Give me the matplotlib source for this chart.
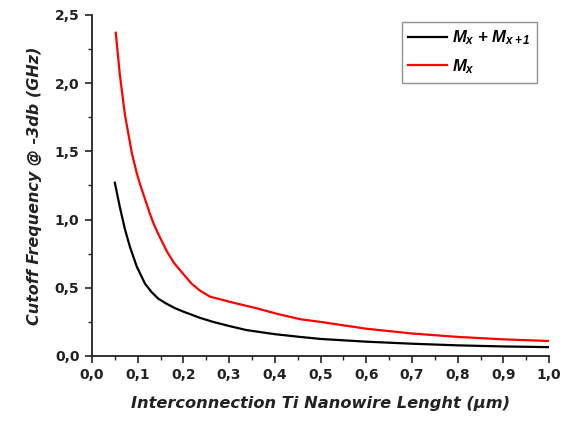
import matplotlib
matplotlib.use("Agg")
import matplotlib.pyplot as plt
from matplotlib.ticker import MultipleLocator, FixedLocator

plt.rcParams['font.family'] = ['DejaVu Sans']
plt.rcParams['mathtext.fontset'] = 'custom'
plt.rcParams['mathtext.it'] = 'Liberation Sans:bold:italic'
plt.rcParams['mathtext.rm'] = 'Liberation Sans:bold:italic'
plt.rcParams['mathtext.bf'] = 'Liberation Sans:bold:italic'

# Nanowire length (µm) and cutoff frequency (GHz)
len_pair = [0.05, 0.061, 0.072, 0.083, 0.098, 0.116, 0.13, 0.145, 0.162, 0.182,
            0.2, 0.236, 0.265, 0.3, 0.338, 0.4, 0.455, 0.5, 0.6, 0.7, 0.8, 0.9, 1.0]
f_pair = [1.27, 1.09, 0.93, 0.80, 0.655, 0.53, 0.47, 0.42, 0.385, 0.35,
          0.325, 0.28, 0.25, 0.22, 0.19, 0.16, 0.14, 0.125, 0.105, 0.09, 0.078, 0.07, 0.065]

len_single = [0.052, 0.061, 0.072, 0.087, 0.098, 0.105, 0.116, 0.127, 0.136, 0.15,
              0.165, 0.18, 0.2, 0.218, 0.236, 0.258, 0.287, 0.31, 0.335, 0.36,
              0.404, 0.455, 0.5, 0.6, 0.7, 0.8, 0.9, 1.0]
f_single = [2.37, 2.06, 1.77, 1.49, 1.34, 1.26, 1.15, 1.04, 0.96, 0.86,
            0.76, 0.68, 0.60, 0.53, 0.48, 0.435, 0.41, 0.39, 0.37, 0.35,
            0.31, 0.27, 0.25, 0.20, 0.165, 0.14, 0.122, 0.11]

x_ticks = [0.0, 0.1, 0.2, 0.3, 0.4, 0.5, 0.6, 0.7, 0.8, 0.9, 1.0]
x_labels = ['0,0', '0,1', '0,2', '0,3', '0,4', '0,5', '0,6', '0,7', '0,8', '0,9', '1,0']
y_ticks = [0.0, 0.5, 1.0, 1.5, 2.0, 2.5]
y_labels = ['0,0', '0,5', '1,0', '1,5', '2,0', '2,5']

fig = plt.figure(figsize=(5.62, 4.21), dpi=100)
ax = fig.add_axes([0.1637, 0.1544, 0.8133, 0.81])

ax.plot(len_pair, f_pair, color='black', lw=1.6, label=r'$M_x$ + $M_{x+1}$')
ax.plot(len_single, f_single, color='#ff0000', lw=1.6, label=r'$M_x$')

ax.set_xlim(0, 1.0)
ax.set_ylim(0, 2.5)
ax.xaxis.set_major_locator(FixedLocator(x_ticks))
ax.set_xticklabels(x_labels)
ax.yaxis.set_major_locator(FixedLocator(y_ticks))
ax.set_yticklabels(y_labels)
ax.xaxis.set_minor_locator(MultipleLocator(0.05))
ax.yaxis.set_minor_locator(MultipleLocator(0.25))

for s in ['top', 'right']:
    ax.spines[s].set_visible(False)
for s in ['left', 'bottom']:
    ax.spines[s].set_linewidth(1.3)
    ax.spines[s].set_color('#222222')

ax.tick_params(which='major', direction='out', length=5, width=1.2, colors='#222222',
               labelsize=10, labelcolor='#222222', pad=4)
ax.tick_params(which='minor', direction='out', length=3, width=1.0, colors='#222222')
for lab in ax.get_xticklabels() + ax.get_yticklabels():
    lab.set_fontweight('bold')

ax.set_xlabel('Interconnection Ti Nanowire Lenght (µm)', fontsize=11.7, fontweight='bold',
              fontstyle='italic', color='#222222', labelpad=10)
ax.set_ylabel('Cutoff Frequency @ -3db (GHz)', fontsize=11.5, fontweight='bold',
              fontstyle='italic', color='#222222', labelpad=9)

leg = ax.legend(loc='upper right', bbox_to_anchor=(0.974, 0.98), fancybox=False,
                frameon=True, edgecolor='#777777', handlelength=2.3,
                prop={'family': 'Liberation Sans', 'weight': 'bold', 'style': 'italic',
                      'size': 12},
                handletextpad=0.3, borderpad=0.4, labelspacing=0.6, borderaxespad=0)
leg.get_frame().set_linewidth(1.0)

fig.savefig('out.png', dpi=100)
